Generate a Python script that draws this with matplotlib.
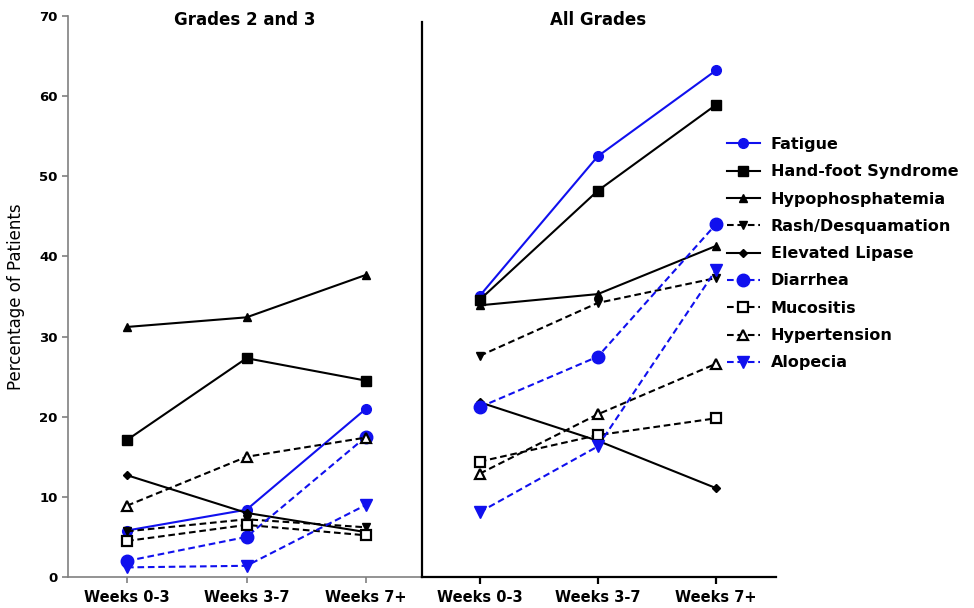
import numpy as np
import matplotlib.pyplot as plt

plt.rcParams['font.family'] = ['DejaVu Sans']

periods = ['Weeks 0-3', 'Weeks 3-7', 'Weeks 7+']
names = ['Fatigue', 'Hand-foot Syndrome', 'Hypophosphatemia', 'Rash/Desquamation',
         'Elevated Lipase', 'Diarrhea', 'Mucositis', 'Hypertension', 'Alopecia']

# % of patients, grades 2 and 3
g23_fatigue = [5.8, 8.4, 21.0]
g23_handfoot = [17.1, 27.3, 24.5]
g23_hypophos = [31.2, 32.4, 37.7]
g23_rash = [5.7, 7.2, 6.2]
g23_lipase = [12.7, 8.0, 5.6]
g23_diarrhea = [2.0, 5.0, 17.5]
g23_mucositis = [4.5, 6.5, 5.2]
g23_hypertension = [8.9, 15.0, 17.4]
g23_alopecia = [1.2, 1.4, 9.0]

# % of patients, all grades
all_fatigue = [35.1, 52.5, 63.2]
all_handfoot = [34.6, 48.2, 58.9]
all_hypophos = [33.9, 35.3, 41.3]
all_rash = [27.6, 34.2, 37.3]
all_lipase = [21.8, 17.0, 11.1]
all_diarrhea = [21.2, 27.5, 44.0]
all_mucositis = [14.4, 17.7, 19.8]
all_hypertension = [12.9, 20.3, 26.6]
all_alopecia = [8.1, 16.3, 38.3]

g23 = [g23_fatigue, g23_handfoot, g23_hypophos, g23_rash, g23_lipase,
       g23_diarrhea, g23_mucositis, g23_hypertension, g23_alopecia]
allg = [all_fatigue, all_handfoot, all_hypophos, all_rash, all_lipase,
        all_diarrhea, all_mucositis, all_hypertension, all_alopecia]

blue = '#1010ee'
dash = (0, (3.2, 1.8))
styles = [
    dict(color=blue, ls='-', marker='o', ms=7, mfc=blue, mec=blue),
    dict(color='black', ls='-', marker='s', ms=7, mfc='black', mec='black'),
    dict(color='black', ls='-', marker='^', ms=6, mfc='black', mec='black'),
    dict(color='black', ls=dash, marker='v', ms=6, mfc='black', mec='black'),
    dict(color='black', ls='-', marker='D', ms=4.5, mfc='black', mec='black'),
    dict(color=blue, ls=dash, marker='o', ms=9, mfc=blue, mec=blue),
    dict(color='black', ls=dash, marker='s', ms=7, mfc='white', mec='black', mew=1.6),
    dict(color='black', ls=dash, marker='^', ms=6.5, mfc='white', mec='black', mew=1.6),
    dict(color=blue, ls=dash, marker='v', ms=8.5, mfc=blue, mec=blue),
]

fig = plt.figure(figsize=(9.74, 6.08), dpi=100)
W, H = 974, 608
ax1 = fig.add_axes([68 / W, 1 - 577 / H, 353 / W, 561 / H])
ax2 = fig.add_axes([422 / W, 1 - 577 / H, 354 / W, 561 / H])

x = np.arange(3)
lines = []
for ax, data in [(ax1, g23), (ax2, allg)]:
    for name, vals, st in zip(names, data, styles):
        ln, = ax.plot(x, vals, lw=1.5, label=name, **st)
        if ax is ax1:
            lines.append(ln)
    ax.set_ylim(0, 70)
    ax.set_xticks(x)
    ax.set_xticklabels(periods, fontsize=10.5, fontweight='bold')
    for s in ['top', 'right']:
        ax.spines[s].set_visible(False)

ax1.set_xlim(-0.494, 2.46)
ax2.set_xlim(-0.49, 2.51)

# left panel: thin grey axes with y scale
ax1.set_yticks(range(0, 71, 10))
ax1.set_yticklabels([str(v) for v in range(0, 71, 10)], fontsize=9.5, fontweight='bold')
for s in ['left', 'bottom']:
    ax1.spines[s].set_color('#808080')
    ax1.spines[s].set_linewidth(1.2)
ax1.tick_params(color='#808080', length=4, width=1.2)
ax1.tick_params(axis='x', pad=5)
ax1.set_ylabel('Percentage of Patients', fontsize=12, labelpad=10)

# right panel: heavier black frame, no y scale
ax2.set_yticks([])
for s in ['left', 'bottom']:
    ax2.spines[s].set_color('black')
    ax2.spines[s].set_linewidth(1.6)
ax2.spines['left'].set_bounds(0, 69.2)
ax2.tick_params(axis='x', length=5, width=1.6, pad=4)
ax2.patch.set_alpha(0)

fig.text(245 / W, 1 - 20 / H, 'Grades 2 and 3', ha='center', va='center',
         fontsize=12, fontweight='bold')
fig.text(598 / W, 1 - 20 / H, 'All Grades', ha='center', va='center',
         fontsize=12, fontweight='bold')

fig.legend(handles=lines, loc='upper left', bbox_to_anchor=(727 / W, 1 - 137 / H),
           frameon=False, prop=dict(size=11.5, weight='bold'), handlelength=2.06,
           handletextpad=0.69, labelspacing=0.77, borderpad=0, borderaxespad=0)

fig.savefig('out.png', dpi=100)
